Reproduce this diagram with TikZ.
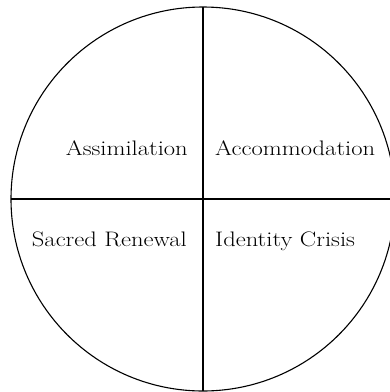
\documentclass[tikz,border=0pt]{standalone}
\newcommand{\wideTxt}[1]{\scalebox{1.17}[1]{#1}}
\begin{document}
\begin{tikzpicture}[x=1pt,y=-1pt,
  lbl/.style={inner sep=0pt,font=\fontsize{21}{25}\selectfont},
  ln/.style={line width=1.1pt,black}]
\useasboundingbox (0,0) rectangle (390,392);
\clip (0,0) rectangle (390,392);
\coordinate (c) at (203,199);
\coordinate (top) at (203,7);
\coordinate (bot) at (203,391);
\coordinate (lft) at (11,199);
\coordinate (rgt) at (395,199);
\draw[ln] (c) circle[radius=192];
\draw[ln] (top) -- (bot);
\draw[ln] (lft) -- (rgt);
\node[lbl,anchor=base east] (assim) at (188,155.7) {\wideTxt{Assimilation}};
\node[lbl,anchor=base west] (accom) at (215,155.7) {\wideTxt{Accommodation}};
\node[lbl,anchor=base east] (sacred) at (187,246.7) {\wideTxt{Sacred Renewal}};
\node[lbl,anchor=base west] (ident) at (215,246.7) {\wideTxt{Identity Crisis}};
\end{tikzpicture}
\end{document}
